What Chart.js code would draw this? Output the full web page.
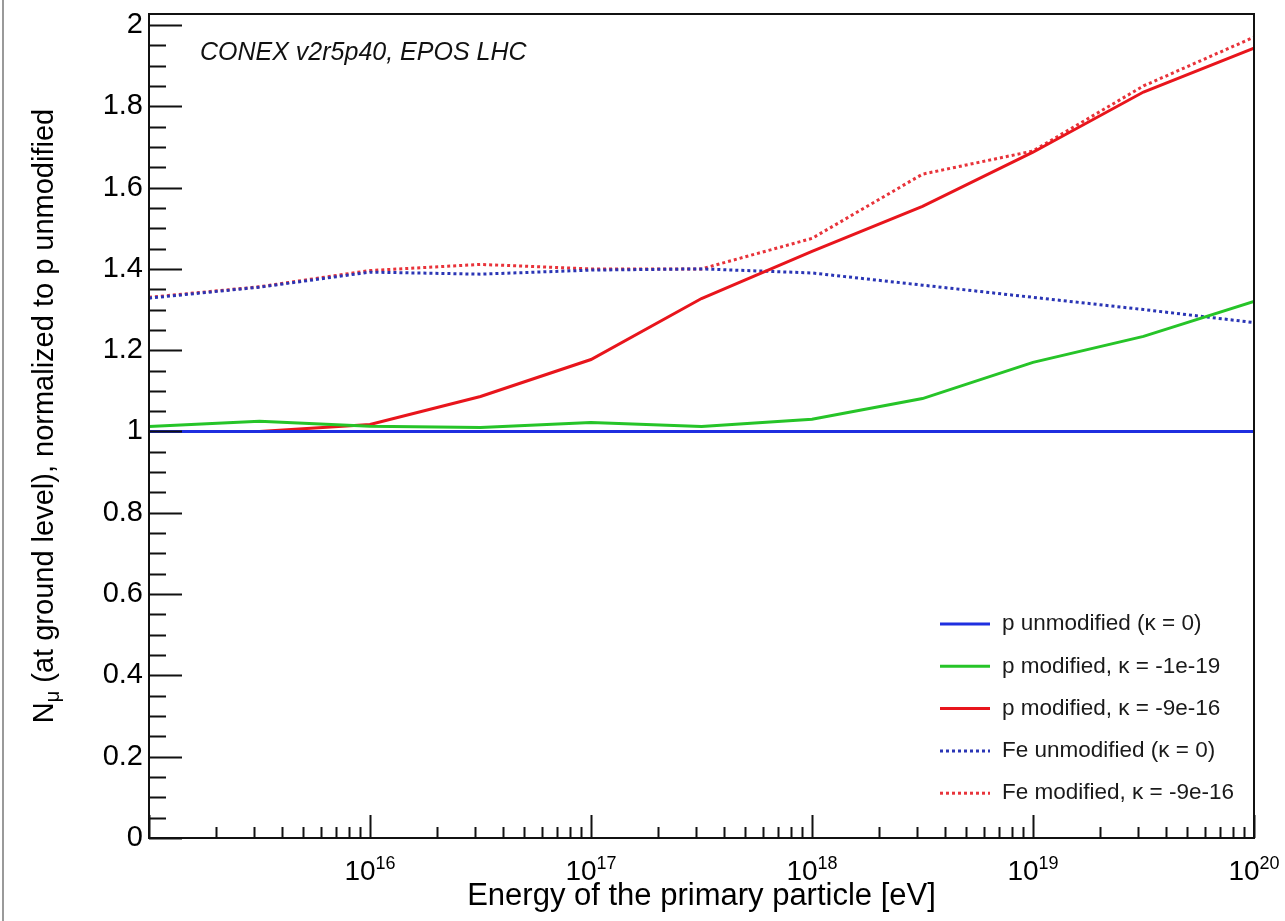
<!DOCTYPE html>
<html>
<head>
<meta charset="utf-8">
<title>N_mu at ground level</title>
<script src="https://cdn.jsdelivr.net/npm/chart.js@4.4.1/dist/chart.umd.min.js"></script>
<style>
  body { margin: 0; background: #fff; }
  canvas { display: block; }
</style>
</head>
<body>
<canvas id="chart" width="1285" height="921"></canvas>
<script>
/*
DATA
*/
// primary energy in eV, half-decade steps
const energies = [1e15, 3.162e15, 1e16, 3.162e16, 1e17, 3.162e17, 1e18, 3.162e18, 1e19, 3.162e19, 1e20];

// N_mu normalized to p unmodified
const pUnmodified = [1, 1, 1, 1, 1, 1, 1, 1, 1, 1, 1];
const pModified19 = [1.012, 1.025, 1.013, 1.010, 1.022, 1.012, 1.030, 1.081, 1.170, 1.234, 1.320];
const pModified16 = [1.000, 1.000, 1.017, 1.086, 1.177, 1.327, 1.443, 1.554, 1.687, 1.835, 1.943];
const feUnmodified = [1.328, 1.355, 1.392, 1.387, 1.397, 1.400, 1.390, 1.360, 1.330, 1.300, 1.268];
const feModified16 = [1.330, 1.356, 1.396, 1.411, 1.400, 1.400, 1.475, 1.633, 1.690, 1.850, 1.970];

// legend labels
const seriesLabels = [
  'p unmodified (\u03ba = 0)',
  'p modified, \u03ba = -1e-19',
  'p modified, \u03ba = -9e-16',
  'Fe unmodified (\u03ba = 0)',
  'Fe modified, \u03ba = -9e-16'
];

// decades that get a 10^n label on the x axis
const xLabelExponents = [16, 17, 18, 19, 20];

// y title pieces (N with subscript mu)
const yTitleMain = 'N';
const yTitleSub = '\u03bc';
const yTitleRest = ' (at ground level), normalized to p unmodified';

const FONT = '"Liberation Sans", Arial, Helvetica, sans-serif';

function toPoints(values) {
  return energies.map((e, i) => ({ x: e, y: values[i] }));
}

function isMajorY(v) {
  return Math.abs(v / 0.2 - Math.round(v / 0.2)) < 1e-6;
}

//draws the frame, inner ticks, exponent labels, text and legend
const rootStyle = {
  id: 'rootStyle',
  beforeDraw(chart) {
    const ctx = chart.ctx;
    ctx.save();
    ctx.fillStyle = '#fff';
    ctx.fillRect(0, 0, chart.width, chart.height);
    ctx.strokeStyle = '#9a9a9a';
    ctx.lineWidth = 2;
    ctx.beginPath();
    ctx.moveTo(3, 0);
    ctx.lineTo(3, chart.height);
    ctx.stroke();
    ctx.restore();
  },
  afterDraw(chart) {
    const ctx = chart.ctx;
    const area = chart.chartArea;
    const xs = chart.scales.x;
    const ys = chart.scales.y;
    ctx.save();

    // frame
    ctx.strokeStyle = '#111';
    ctx.lineWidth = 2;
    ctx.strokeRect(area.left, area.top, area.right - area.left, area.bottom - area.top);

    // y ticks inside the frame
    ctx.beginPath();
    for (let t of ys.ticks) {
      const y = Math.round(ys.getPixelForValue(t.value)) + 0.5;
      const len = isMajorY(t.value) ? 33 : 17;
      ctx.moveTo(area.left, y);
      ctx.lineTo(area.left + len, y);
    }
    // x ticks inside the frame
    for (let t of xs.ticks) {
      const x = Math.round(xs.getPixelForValue(t.value)) + 0.5;
      const mant = t.value / Math.pow(10, Math.floor(Math.log10(t.value) + 1e-9));
      const len = Math.abs(mant - 1) < 1e-6 ? 23 : 11;
      ctx.moveTo(x, area.bottom);
      ctx.lineTo(x, area.bottom - len);
    }
    ctx.stroke();

    // x labels as 10^n
    ctx.fillStyle = '#000';
    ctx.textBaseline = 'alphabetic';
    for (let n of xLabelExponents) {
      const x = xs.getPixelForValue(Math.pow(10, n));
      ctx.font = '28px ' + FONT;
      const wBase = ctx.measureText('10').width;
      ctx.font = '18px ' + FONT;
      const wExp = ctx.measureText(String(n)).width;
      const x0 = x - (wBase + wExp) / 2;
      ctx.font = '28px ' + FONT;
      ctx.textAlign = 'left';
      ctx.fillText('10', x0, 880);
      ctx.font = '18px ' + FONT;
      ctx.fillText(String(n), x0 + wBase, 869);
    }

    // y title, rotated, with subscript
    ctx.save();
    ctx.translate(53, 416);
    ctx.rotate(-Math.PI / 2);
    ctx.font = '29px ' + FONT;
    const wN = ctx.measureText(yTitleMain).width;
    const wRest = ctx.measureText(yTitleRest).width;
    ctx.font = '20px ' + FONT;
    const wSub = ctx.measureText(yTitleSub).width;
    let tx = -(wN + wSub + wRest) / 2;
    ctx.font = '29px ' + FONT;
    ctx.fillText(yTitleMain, tx, 0);
    ctx.font = '20px ' + FONT;
    ctx.fillText(yTitleSub, tx + wN, 6);
    ctx.font = '29px ' + FONT;
    ctx.fillText(yTitleRest, tx + wN + wSub, 0);
    ctx.restore();

    // generator label
    ctx.font = 'italic 25px ' + FONT;
    ctx.fillStyle = '#111';
    ctx.fillText('CONEX v2r5p40, EPOS LHC', 200, 60);

    // legend
    ctx.font = '22.5px ' + FONT;
    ctx.textBaseline = 'middle';
    chart.data.datasets.forEach((ds, i) => {
      const y = 624 + i * 42.3;
      ctx.strokeStyle = ds.borderColor;
      ctx.lineWidth = 3;
      ctx.setLineDash(ds.borderDash || []);
      ctx.beginPath();
      ctx.moveTo(940, y);
      ctx.lineTo(990, y);
      ctx.stroke();
      ctx.setLineDash([]);
      ctx.fillStyle = '#1a1a1a';
      ctx.fillText(ds.label, 1002, y);
    });
    ctx.restore();
  }
};

const colors = ['#1f2fe0', '#26c428', '#e8151c', '#2a35b5', '#e8333a'];
const seriesValues = [pUnmodified, pModified19, pModified16, feUnmodified, feModified16];

const datasets = seriesValues.map((vals, i) => ({
  label: seriesLabels[i],
  data: toPoints(vals),
  borderColor: colors[i],
  borderWidth: 3,
  borderDash: i >= 3 ? [3, 3] : [],
  pointRadius: 0,
  tension: 0,
  fill: false
}));

let chart = new Chart(document.getElementById('chart'), {
  type: 'line',
  data: { datasets: datasets },
  options: {
    responsive: false,
    animation: false,
    devicePixelRatio: 1,
    layout: { padding: { left: 0, top: 14, right: 31, bottom: 0 } },
    plugins: {
      legend: { display: false },
      tooltip: { enabled: false }
    },
    scales: {
      x: {
        type: 'logarithmic',
        min: 1e15,
        max: 1e20,
        grid: { display: false, drawTicks: false },
        border: { display: false },
        ticks: { display: false },
        afterBuildTicks: (scale) => {
          let ticks = [];
          for (let d = 15; d < 20; d++) {
            for (let k = 1; k <= 9; k++) ticks.push({ value: k * Math.pow(10, d) });
          }
          ticks.push({ value: 1e20 });
          scale.ticks = ticks;
        },
        afterFit: (scale) => {
          scale.height = 83;
          scale.paddingLeft = 0;
          scale.paddingRight = 0;
        },
        title: {
          display: true,
          text: 'Energy of the primary particle [eV]',
          color: '#000',
          font: { family: FONT, size: 31 },
          padding: { top: 0, bottom: 6 }
        }
      },
      y: {
        type: 'linear',
        min: 0,
        max: 2.027,
        grid: { display: false, drawTicks: false },
        border: { display: false },
        afterBuildTicks: (scale) => {
          let ticks = [];
          for (let i = 0; i <= 40; i++) ticks.push({ value: i * 0.05 });
          scale.ticks = ticks;
        },
        ticks: {
          autoSkip: false,
          padding: 6,
          color: '#000',
          font: { family: FONT, size: 29 },
          callback: (v) => isMajorY(v) ? String(Math.round(v * 10) / 10) : ''
        },
        afterFit: (scale) => {
          scale.width = 149;
          scale.paddingTop = 0;
          scale.paddingBottom = 0;
        }
      }
    }
  },
  plugins: [rootStyle]
});
</script>
</body>
</html>
